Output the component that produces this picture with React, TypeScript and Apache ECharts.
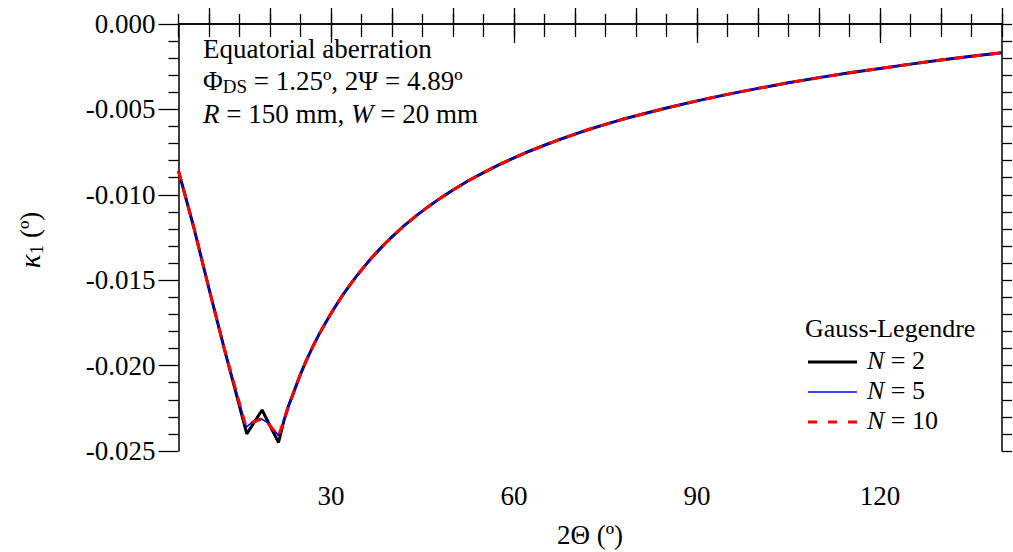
import React, { useEffect, useRef } from "react";
import * as echarts from "echarts";

// 2Θ (degrees) and κ1 (degrees)
const angleHead = [5, 7.5, 10, 12.5];
const kappaHead = [-0.0086, -0.0119, -0.0155, -0.019];

const dipAnglesN2 = [16.2, 18.7, 21.4];
const dipKappaN2 = [-0.024, -0.0226, -0.0245];

const dipAnglesN5 = [16.1, 17.3, 18.5, 19.7, 21.4];
const dipKappaN5 = [-0.0236, -0.02325, -0.0231, -0.02335, -0.0241];

const dipAnglesN10 = [16.0, 17.3, 18.5, 19.7, 21.4];
const dipKappaN10 = [-0.0235, -0.0233, -0.02315, -0.0234, -0.0241];

const angleTail = [22.3, 23, 24, 25, 26, 27, 28, 29, 30, 31, 32, 33, 34, 35, 36, 37, 38, 39, 40, 42, 44, 46, 48, 50, 52.5, 55, 57.5, 60, 62.5, 65, 67.5, 70, 72.5, 75, 77.5, 80, 85, 90, 95, 100, 105, 110, 115, 120, 125, 130, 135, 140];
const kappaTail = [-0.0232, -0.0224, -0.02145, -0.0205, -0.01966, -0.0189, -0.0182, -0.01756, -0.01695, -0.01638, -0.01583, -0.01533, -0.01485, -0.0144, -0.01397, -0.01356, -0.01318, -0.01281, -0.01246, -0.01181, -0.01122, -0.01068, -0.01018, -0.00972, -0.00918, -0.0087, -0.00825, -0.00784, -0.00745, -0.0071, -0.00676, -0.00645, -0.00615, -0.00588, -0.00561, -0.00537, -0.00492, -0.0045, -0.00412, -0.00377, -0.00344, -0.00314, -0.00286, -0.0026, -0.00235, -0.00211, -0.00189, -0.00168];

const xMajorLabels = [30, 60, 90, 120];
const xTopMajor = [10, 20, 30, 40, 50, 60, 70, 80, 90, 100, 110, 120, 130, 140];

const seriesNames = ["N = 2", "N = 5", "N = 10"];

const FONT = "Liberation Serif";

function pairs(xs: number[], ys: number[]) {
  return xs.map((x, i) => [x, ys[i]]);
}

function build(dipX: number[], dipY: number[]) {
  return [...pairs(angleHead, kappaHead), ...pairs(dipX, dipY), ...pairs(angleTail, kappaTail)];
}

export default function App() {
  const ref = useRef<HTMLDivElement>(null);
  useEffect(() => {
    if (!ref.current) return;
    const chart = echarts.init(ref.current, null, { renderer: "svg" });
    const gridPos = { left: 178.5, right: 11, top: 24, bottom: 101 };
    const axLine = { show: true, lineStyle: { color: "#000", width: 1.5 } };
    const tickStyle = { color: "#000", width: 1.3 };
    const base = { type: "value", min: 5, max: 140, splitLine: { show: false } };
    const yBase = { type: "value", min: -0.025, max: 0, splitLine: { show: false } };
    const txt = (size: number, style = "normal") => ({ fontFamily: FONT, fontSize: size, fontStyle: style, fill: "#000" });

    chart.setOption({
      animation: false,
      backgroundColor: "#fff",
      textStyle: { fontFamily: FONT, color: "#000" },
      grid: [
        { ...gridPos, containLabel: false },
        { ...gridPos, containLabel: false },
      ],
      xAxis: [
        { ...base, gridIndex: 0, position: "bottom", interval: 5, axisLine: axLine, axisTick: { show: true, length: 13, lineStyle: tickStyle }, axisLabel: { show: false } },
        { ...base, gridIndex: 0, position: "top", interval: 5, axisLine: axLine, axisTick: { show: true, length: 10, lineStyle: tickStyle }, axisLabel: { show: false } },
        { ...base, gridIndex: 1, position: "bottom", axisLine: { show: false }, axisTick: { show: true, length: 19, customValues: xMajorLabels, lineStyle: tickStyle }, axisLabel: { show: true, customValues: xMajorLabels, margin: 31, fontSize: 27, fontFamily: FONT, color: "#000" } },
        { ...base, gridIndex: 1, position: "top", axisLine: { show: false }, axisTick: { show: true, length: 16, customValues: xTopMajor, lineStyle: tickStyle }, axisLabel: { show: false } },
      ],
      yAxis: [
        { ...yBase, gridIndex: 0, position: "left", interval: 0.005, axisLine: axLine, axisTick: { show: true, length: 20, lineStyle: tickStyle }, minorTick: { show: true, splitNumber: 5, length: 10, lineStyle: tickStyle }, axisLabel: { show: true, margin: 23, fontSize: 27, fontFamily: FONT, color: "#000", formatter: (v: number) => (Math.abs(v) < 1e-12 ? "0.000" : v.toFixed(3)) } },
        { ...yBase, gridIndex: 0, position: "right", interval: 0.001, axisLine: axLine, axisTick: { show: true, length: 10, lineStyle: tickStyle }, axisLabel: { show: false } },
        { ...yBase, gridIndex: 1, position: "left", show: false },
      ],
      series: [
        { name: seriesNames[0], type: "line", xAxisIndex: 0, yAxisIndex: 0, data: build(dipAnglesN2, dipKappaN2), showSymbol: false, lineStyle: { color: "#000", width: 3 }, z: 2 },
        { name: seriesNames[1], type: "line", xAxisIndex: 0, yAxisIndex: 0, data: build(dipAnglesN5, dipKappaN5), showSymbol: false, lineStyle: { color: "#0000ff", width: 1.6 }, z: 3 },
        { name: seriesNames[2], type: "line", xAxisIndex: 0, yAxisIndex: 0, data: build(dipAnglesN10, dipKappaN10), showSymbol: false, lineStyle: { color: "#ff0000", width: 3, type: [10, 8] }, z: 4 },
      ],
      graphic: [
        { type: "text", left: 203, top: 35, style: { ...txt(27), text: "Equatorial aberration" } },
        {
          type: "text", left: 203, top: 67,
          style: {
            ...txt(27),
            text: "{n|Φ}{s|DS}{n| = 1.25º, 2Ψ = 4.89º}",
            rich: {
              n: { ...txt(27), lineHeight: 31 },
              s: { ...txt(19), lineHeight: 19, verticalAlign: "bottom" },
            },
          },
        },
        {
          type: "text", left: 203, top: 100,
          style: {
            ...txt(27),
            text: "{i|R}{n| = 150 mm, }{i|W}{n| = 20 mm}",
            rich: { i: { ...txt(27, "italic") }, n: { ...txt(27) } },
          },
        },
        { type: "text", left: 805, top: 315, style: { ...txt(26), text: "Gauss-Legendre" } },
        { type: "line", shape: { x1: 808, y1: 362, x2: 857, y2: 362 }, style: { stroke: "#000", lineWidth: 3 } },
        { type: "line", shape: { x1: 808, y1: 392, x2: 857, y2: 392 }, style: { stroke: "#0000ff", lineWidth: 1.3 } },
        { type: "line", shape: { x1: 808, y1: 422, x2: 857, y2: 422 }, style: { stroke: "#ff0000", lineWidth: 3, lineDash: [9, 11] } },
        { type: "text", left: 867, top: 347, style: { ...txt(26), text: "{i|N}{n| = 2}", rich: { i: { ...txt(26, "italic") }, n: { ...txt(26) } } } },
        { type: "text", left: 867, top: 377, style: { ...txt(26), text: "{i|N}{n| = 5}", rich: { i: { ...txt(26, "italic") }, n: { ...txt(26) } } } },
        { type: "text", left: 867, top: 407, style: { ...txt(26), text: "{i|N}{n| = 10}", rich: { i: { ...txt(26, "italic") }, n: { ...txt(26) } } } },
        { type: "text", x: 590, y: 535, style: { ...txt(27), text: "2Θ (º)", align: "center", verticalAlign: "middle" } },
        {
          type: "text", x: 30, y: 240, rotation: Math.PI / 2,
          style: {
            ...txt(27),
            text: "{k|κ}{s|1}{n| (º)}",
            align: "center",
            verticalAlign: "middle",
            rich: {
              k: { ...txt(29, "italic"), lineHeight: 31 },
              s: { ...txt(19), lineHeight: 19, verticalAlign: "bottom" },
              n: { ...txt(27), lineHeight: 31 },
            },
          },
        },
      ],
    });
    return () => chart.dispose();
  }, []);
  return <div ref={ref} style={{ position: "absolute", left: 0, top: 0, width: 1013, height: 552 }} />;
}
